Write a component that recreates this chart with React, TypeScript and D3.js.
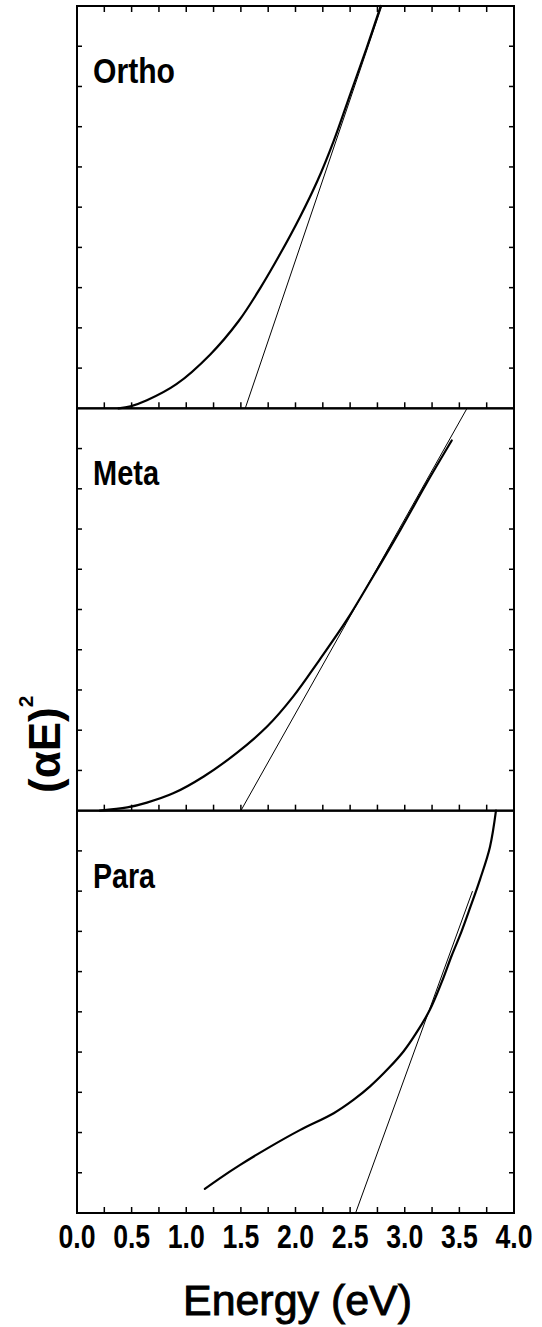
import React from "react";
import * as d3 from "d3";

// ---- data ----
const panelNames = ["Ortho", "Meta", "Para"];

const orthoE = [0.38, 0.49, 0.64, 0.91, 1.22, 1.48, 1.68, 1.86, 2.04, 2.2, 2.35, 2.5, 2.65, 2.78];
const orthoY = [0, 0.05, 0.2, 0.6, 1.34, 2.17, 3.0, 3.84, 4.75, 5.65, 6.65, 7.8, 8.95, 10];
const orthoFitE = [1.54, 2.79];
const orthoFitY = [0, 10];

const metaE = [0.21, 0.46, 0.64, 0.88, 1.16, 1.46, 1.74, 1.98, 2.22, 2.47, 2.71, 2.96, 3.2, 3.43];
const metaY = [0, 0.08, 0.2, 0.43, 0.85, 1.43, 2.09, 2.84, 3.75, 4.74, 5.82, 6.98, 8.14, 9.2];
const metaFitE = [1.5, 3.57];
const metaFitY = [0, 10];

const paraE = [1.17, 1.3, 1.49, 1.77, 2.04, 2.35, 2.53, 2.68, 2.86, 2.99, 3.1, 3.23, 3.34, 3.43, 3.52, 3.6, 3.69, 3.78, 3.835];
const paraY = [0.6, 0.85, 1.19, 1.65, 2.06, 2.48, 2.81, 3.14, 3.62, 4.02, 4.45, 5.05, 5.75, 6.4, 7.0, 7.6, 8.3, 9.1, 10];
const paraFitE = [2.55, 3.62];
const paraFitY = [0, 8];

const xTickLabels = ["0.0", "0.5", "1.0", "1.5", "2.0", "2.5", "3.0", "3.5", "4.0"];
const xTickValues = [0, 0.5, 1, 1.5, 2, 2.5, 3, 3.5, 4];
const xMinorTicks = [0.25, 0.5, 0.75, 1, 1.25, 1.5, 1.75, 2, 2.25, 2.5, 2.75, 3, 3.25, 3.5, 3.75];
const yTicks = [1, 2, 3, 4, 5, 6, 7, 8, 9];

const panels = [
  { name: panelNames[0], E: orthoE, Y: orthoY, fitE: orthoFitE, fitY: orthoFitY, w: 82 },
  { name: panelNames[1], E: metaE, Y: metaY, fitE: metaFitE, fitY: metaFitY, w: 66 },
  { name: panelNames[2], E: paraE, Y: paraY, fitE: paraFitE, fitY: paraFitY, w: 62 },
];

// ---- layout ----
const W = 542;
const H = 1327;
const left = 77;
const right = 514;
const top0 = 6;
const bottom = 1213;
const panelH = (bottom - top0) / 3;

const sans = "'Liberation Sans', Arial, Helvetica, sans-serif";

export default function App() {
  const x = d3.scaleLinear().domain([0, 4]).range([left, right]);
  return (
    <svg
      width={W}
      height={H}
      viewBox={`0 0 ${W} ${H}`}
      style={{ position: "absolute", left: 0, top: 0, background: "#fff" }}
    >
      <rect x={0} y={0} width={W} height={H} fill="#fff" />
      {panels.map((p, i) => {
        const t = top0 + i * panelH;
        const y = d3.scaleLinear().domain([0, 10]).range([t + panelH, t]);
        const pts = p.E.map((e, k) => [e, p.Y[k]] as [number, number]);
        const fit = p.fitE.map((e, k) => [e, p.fitY[k]] as [number, number]);
        const line = d3
          .line<[number, number]>()
          .x((d) => x(d[0]))
          .y((d) => y(d[1]))
          .curve(d3.curveCatmullRom.alpha(0.5));
        const straight = d3
          .line<[number, number]>()
          .x((d) => x(d[0]))
          .y((d) => y(d[1]));
        return (
          <g key={p.name}>
            {xMinorTicks.map((v) => (
              <line key={"b" + v} x1={x(v)} x2={x(v)} y1={t + panelH} y2={t + panelH - 6} stroke="#000" strokeWidth={1.5} />
            ))}
            {i === 0 &&
              xMinorTicks.map((v) => (
                <line key={"t" + v} x1={x(v)} x2={x(v)} y1={t} y2={t + 6} stroke="#000" strokeWidth={1.5} />
              ))}
            {yTicks.map((v) => (
              <g key={"y" + v}>
                <line x1={left} x2={left + 5} y1={y(v)} y2={y(v)} stroke="#000" strokeWidth={1.5} />
                <line x1={right} x2={right - 5} y1={y(v)} y2={y(v)} stroke="#000" strokeWidth={1.5} />
              </g>
            ))}
            <path d={straight(fit) || ""} fill="none" stroke="#000" strokeWidth={1} />
            <path d={line(pts) || ""} fill="none" stroke="#000" strokeWidth={2.2} strokeLinecap="round" />
            <rect x={left} y={t} width={right - left} height={panelH} fill="none" stroke="#000" strokeWidth={2} />
            <text
              x={93}
              y={t + 77}
              fontFamily={sans}
              fontWeight="bold"
              fontSize={35}
              fill="#000"
              textLength={p.w}
              lengthAdjust="spacingAndGlyphs"
            >
              {p.name}
            </text>
          </g>
        );
      })}
      {xTickValues.map((v, k) => (
        <text
          key={"xl" + v}
          x={x(v) - 18.5}
          y={1248}
          fontFamily={sans}
          fontWeight="bold"
          fontSize={33}
          fill="#000"
          textLength={37}
          lengthAdjust="spacingAndGlyphs"
        >
          {xTickLabels[k]}
        </text>
      ))}
      <text
        x={183}
        y={1315}
        fontFamily={sans}
        fontSize={42}
        fill="#000"
        stroke="#000"
        strokeWidth={0.9}
        textLength={229}
        lengthAdjust="spacingAndGlyphs"
      >
        Energy (eV)
      </text>
      <text
        transform="translate(60,793) rotate(-90)"
        fontFamily={sans}
        fontWeight="bold"
        fontSize={44}
        fill="#000"
      >
        (αE)
        <tspan fontSize={21} dy={-27}>
          2
        </tspan>
      </text>
    </svg>
  );
}
